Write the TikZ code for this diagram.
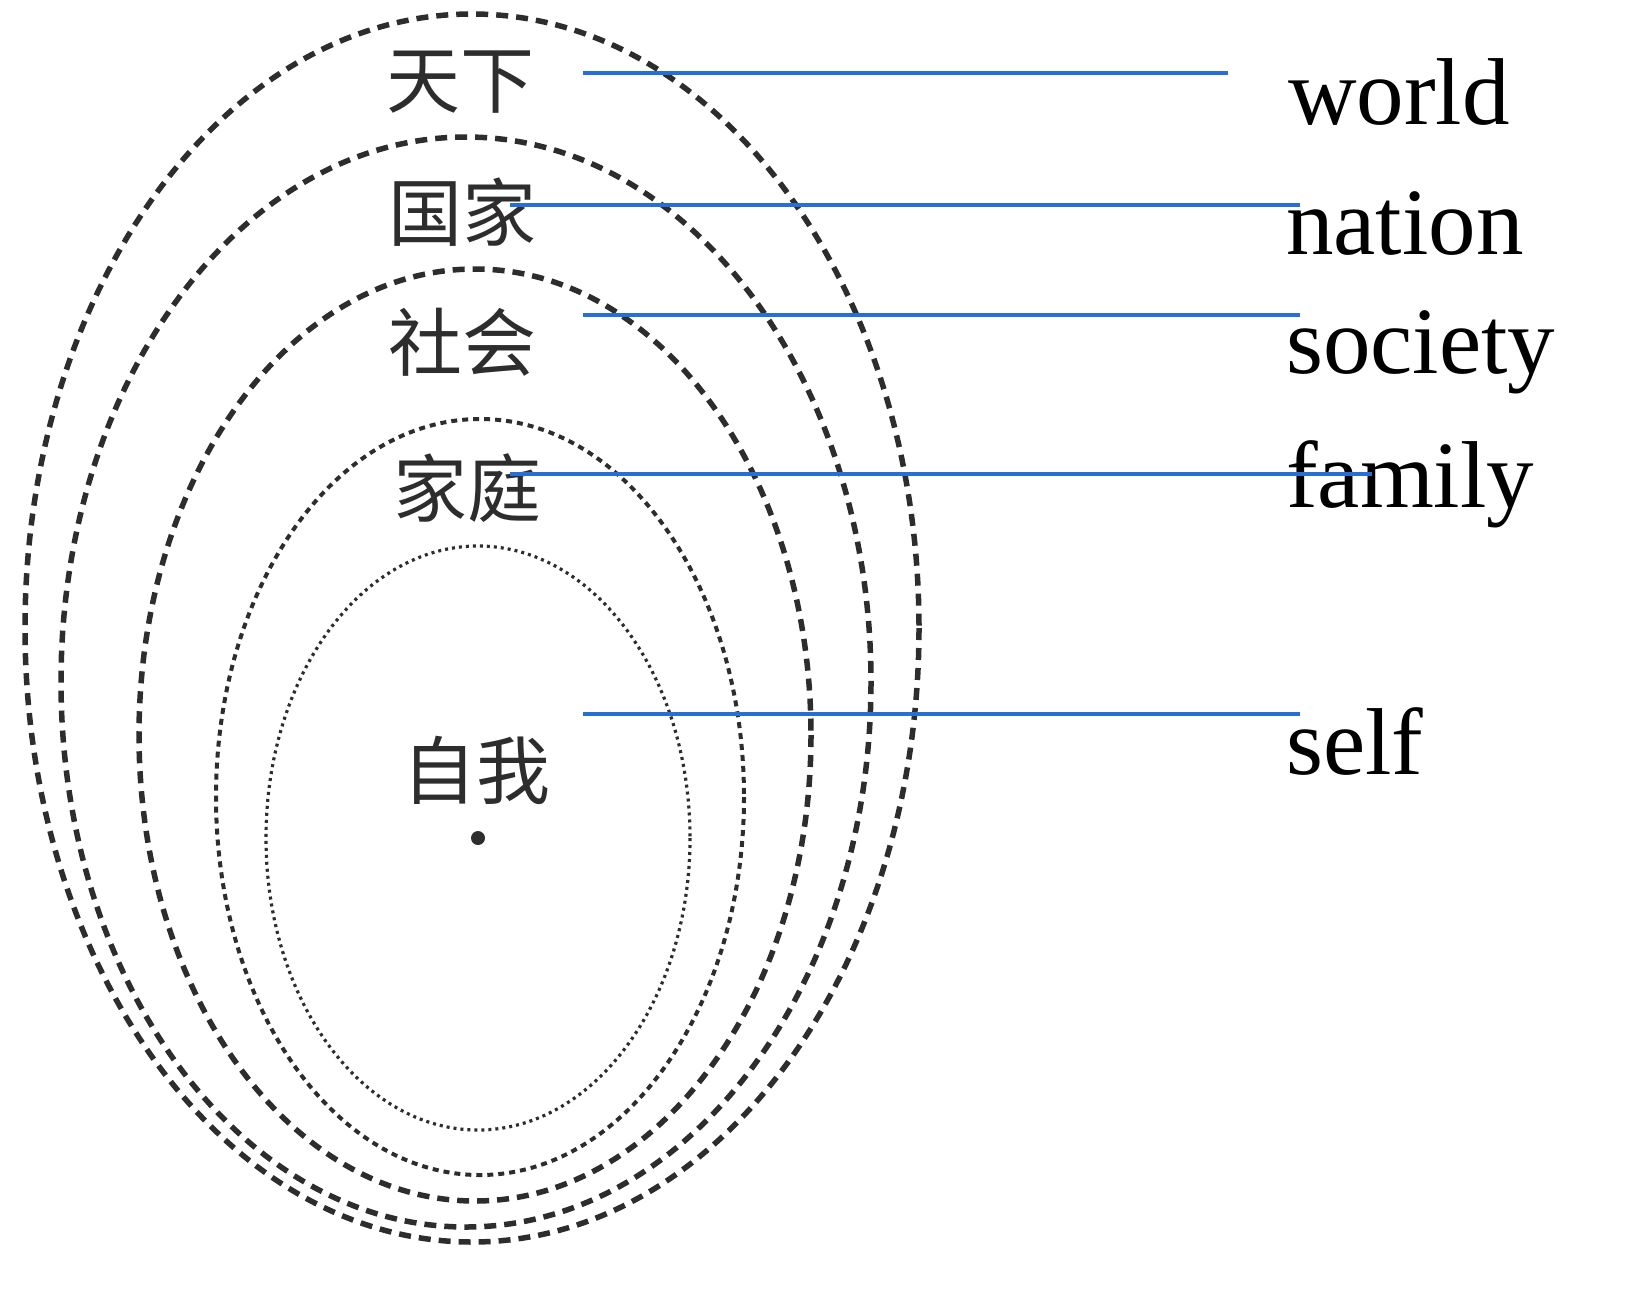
\documentclass[tikz,border=0pt]{standalone}
\usepackage{fontspec}
\setmainfont{Liberation Serif}
\newfontfamily\cjk{Noto Sans CJK SC}
\definecolor{lineblue}{RGB}{40,110,215}
\definecolor{ink}{RGB}{45,45,45}
\begin{document}
\begin{tikzpicture}[x=1pt,y=-1pt,
  ring/.style={draw=ink,line width=5.5,dash pattern=on 12 off 8},
  thinring/.style={draw=ink,line width=4,dash pattern=on 6 off 5},
  dotring/.style={draw=ink,line width=3.2,dash pattern=on 3 off 4},
  zh/.style={font=\cjk\fontsize{74}{74}\selectfont,text=ink,inner sep=0},
  en/.style={font=\fontsize{95}{95}\selectfont,anchor=west,inner sep=0},
  link/.style={draw=lineblue,line width=3.2}]
\useasboundingbox (0,0) rectangle (1637,1315);
\draw[ring] (472,628) ellipse [x radius=447,y radius=614];
\draw[ring] (466,682) ellipse [x radius=405,y radius=545];
\draw[ring] (475,735) ellipse [x radius=336,y radius=466];
\draw[thinring] (480,797) ellipse [x radius=264,y radius=378];
\draw[dotring] (478,838) ellipse [x radius=212,y radius=292];
\fill[ink] (478,838) circle (7);
\node[zh] (tx) at (460,82) {天下};
\node[zh] (gj) at (462,212) {国家};
\node[zh] (sh) at (462,342) {社会};
\node[zh] (jt) at (467,488) {家庭};
\node[zh] (zw) at (476,770) {自我};
\node[en] (world) at (1288,92) {world};
\node[en] (nation) at (1286,224) {nation};
\node[en] (society) at (1286,352) {society};
\node[en] (family) at (1286,484) {family};
\node[en] (self) at (1286,742) {self};
\coordinate (a1) at (583,73); \coordinate (b1) at (1228,73);
\coordinate (a2) at (510,205); \coordinate (b2) at (1300,205);
\coordinate (a3) at (583,315); \coordinate (b3) at (1300,315);
\coordinate (a4) at (510,474); \coordinate (b4) at (1372,474);
\coordinate (a5) at (583,714); \coordinate (b5) at (1300,714);
\draw[link] (a1) -- (b1);
\draw[link] (a2) -- (b2);
\draw[link] (a3) -- (b3);
\draw[link] (a4) -- (b4);
\draw[link] (a5) -- (b5);
\end{tikzpicture}
\end{document}
